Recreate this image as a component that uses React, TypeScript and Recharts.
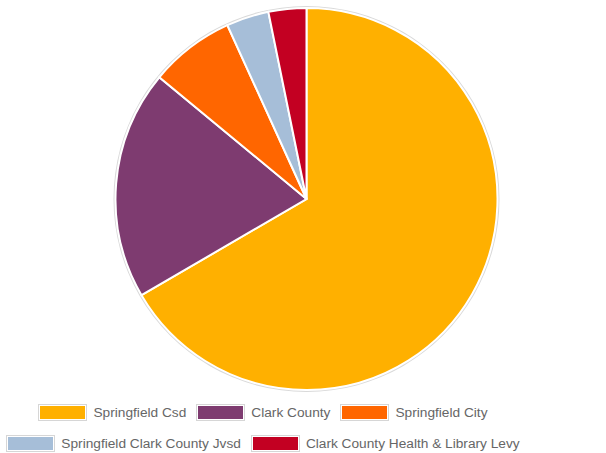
import React from 'react';
import { PieChart, Pie, Cell, Legend } from 'recharts';

const categories = [
  'Springfield Csd',
  'Clark County',
  'Springfield City',
  'Springfield Clark County Jvsd',
  'Clark County Health & Library Levy',
];
const shares = [66.6, 19.4, 7.2, 3.6, 3.2];
const colors = ['#FFB000', '#7E3B70', '#FF6600', '#A6BED8', '#C30022'];

const legendRows = [[0, 1, 2], [3, 4]];

const data = categories.map((name, i) => ({ name, value: shares[i] }));

const LegendBox = ({ idx }: { idx: number }) => (
  <span style={{ display: 'flex', alignItems: 'center', marginRight: 10 }}>
    <span
      style={{
        display: 'inline-block',
        border: '1px solid #d6d6d6',
        padding: 1,
        marginRight: 6,
      }}
    >
      <span style={{ display: 'block', width: 45, height: 13, background: colors[idx] }} />
    </span>
    <span style={{ color: '#666', fontSize: 13.7, whiteSpace: 'nowrap' }}>{categories[idx]}</span>
  </span>
);

const renderLegend = () => (
  <div style={{ width: 526, fontFamily: '"Liberation Sans", Arial, sans-serif' }}>
    {legendRows.map((row, r) => (
      <div
        key={r}
        style={{ display: 'flex', justifyContent: 'center', height: 31, alignItems: 'center' }}
      >
        {row.map((i) => (
          <LegendBox key={i} idx={i} />
        ))}
      </div>
    ))}
  </div>
);

export default function App() {
  return (
    <div style={{ position: 'absolute', left: 0, top: 0, width: 606, height: 453, background: '#fff' }}>
      <PieChart width={606} height={453} margin={{ top: 0, right: 0, bottom: 0, left: 0 }}>
        <Pie
          data={[{ name: 'ring', value: 1 }]}
          dataKey="value"
          cx={306.5}
          cy={199}
          outerRadius={193}
          startAngle={90}
          endAngle={-270}
          fill="#d9d9d9"
          stroke="none"
          isAnimationActive={false}
          legendType="none"
        />
        <Pie
          data={data}
          dataKey="value"
          nameKey="name"
          cx={306.5}
          cy={199}
          outerRadius={191}
          startAngle={90}
          endAngle={-270}
          stroke="#fff"
          strokeWidth={2}
          isAnimationActive={false}
        >
          {data.map((d, i) => (
            <Cell key={d.name} fill={colors[i]} />
          ))}
        </Pie>
        <Legend
          content={renderLegend}
          wrapperStyle={{ position: 'absolute', left: 5, top: 397, width: 526 }}
        />
      </PieChart>
    </div>
  );
}
